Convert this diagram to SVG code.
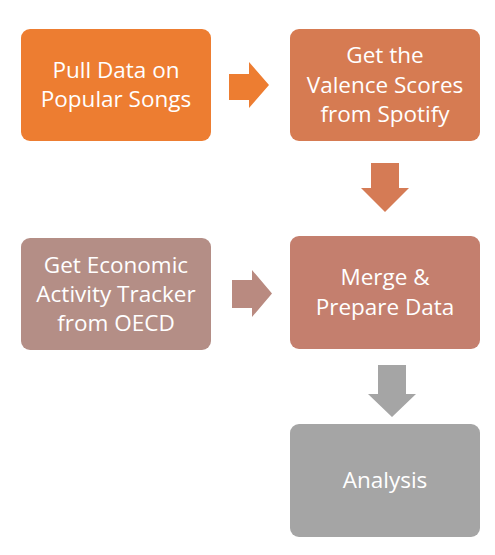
<svg xmlns="http://www.w3.org/2000/svg" width="495" height="555" viewBox="0 0 495 555">
<style>
.lbl{font-family:"Open Sans","Liberation Sans",sans-serif;font-size:22.5px;fill:#ffffff;text-anchor:middle}
</style>
<rect width="495" height="555" fill="#ffffff"/>
<g id="connectors">
<path d="M229,74 H249 V62 L269,85 L249,108 V100 H229 Z" fill="#ED7D31"/>
<path d="M371,163 H399 V188 H409 L385,212 L361,188 H371 Z" fill="#D57B55"/>
<path d="M232,280 H252 V270 L272,293.5 L252,317 V308 H232 Z" fill="#B98A80"/>
<path d="M378,365 H406 V394 H416 L392,417 L368,394 H378 Z" fill="#A5A5A5"/>
</g>
<g id="pull">
<rect x="21" y="29" width="190" height="112" rx="9" fill="#ED7D31"/>
<text class="lbl" x="116" y="78">Pull Data on</text>
<text class="lbl" x="116" y="107">Popular Songs</text>
</g>
<g id="valence">
<rect x="290" y="29" width="190" height="112" rx="9" fill="#D67B52"/>
<text class="lbl" x="385" y="63">Get the</text>
<text class="lbl" x="385" y="93">Valence Scores</text>
<text class="lbl" x="385" y="122">from Spotify</text>
</g>
<g id="oecd">
<rect x="21" y="238" width="190" height="112" rx="9" fill="#B48E86"/>
<text class="lbl" x="116" y="273">Get Economic</text>
<text class="lbl" x="116" y="302">Activity Tracker</text>
<text class="lbl" x="116" y="331">from OECD</text>
</g>
<g id="merge">
<rect x="290" y="236" width="190" height="113" rx="9" fill="#C47F6E"/>
<text class="lbl" x="385" y="285">Merge &amp;</text>
<text class="lbl" x="385" y="315">Prepare Data</text>
</g>
<g id="analysis">
<rect x="290" y="424" width="190" height="113" rx="9" fill="#A5A5A5"/>
<text class="lbl" x="385" y="488">Analysis</text>
</g>
</svg>
